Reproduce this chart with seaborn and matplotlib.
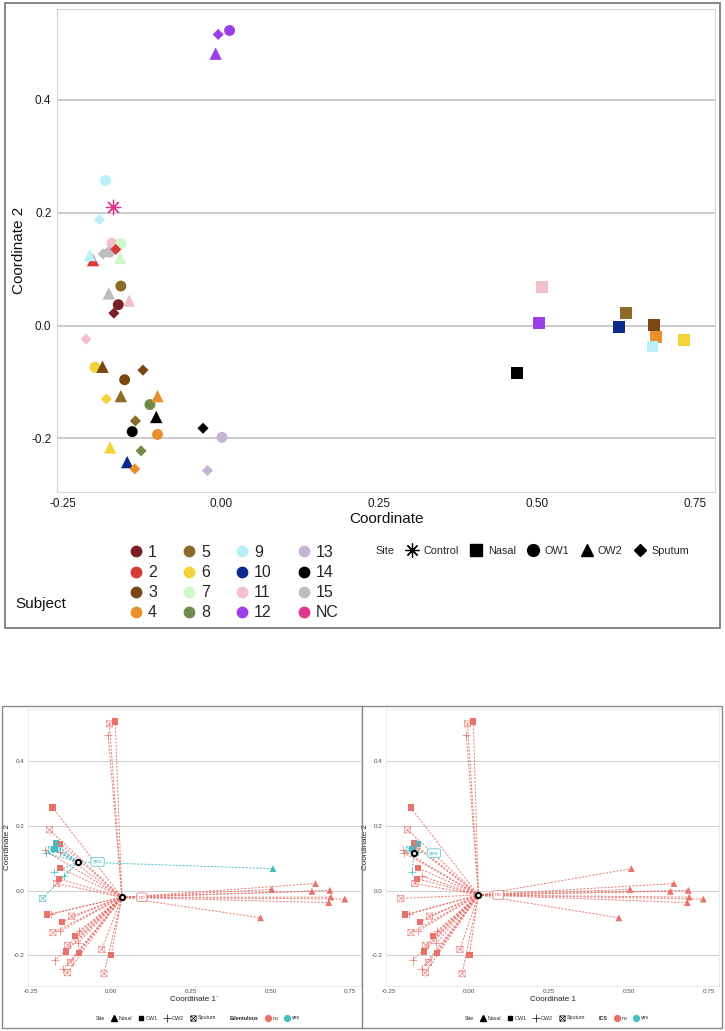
import matplotlib
matplotlib.use("Agg")
import numpy as np
import pandas as pd
import matplotlib.pyplot as plt
import seaborn as sns
from matplotlib.lines import Line2D
from matplotlib.markers import MarkerStyle
from matplotlib.path import Path
from matplotlib.patches import Rectangle

# ---------------- data ----------------
nasal_subject = ['11', '12', '14', '5', '10', '3', '4', '9', '6']
nasal_x = [0.508, 0.504, 0.469, 0.641, 0.630, 0.686, 0.689, 0.683, 0.733]
nasal_y = [0.068, 0.004, -0.084, 0.022, -0.002, 0.001, -0.020, -0.037, -0.026]

ow1_subject = ['12', '9', '11', '7', '15', '5', '1', '6', '3', '8', '14', '4', '13']
ow1_x = [0.014, -0.182, -0.172, -0.158, -0.176, -0.158, -0.162, -0.199, -0.152, -0.112, -0.140, -0.100, 0.002]
ow1_y = [0.523, 0.257, 0.146, 0.145, 0.130, 0.070, 0.037, -0.074, -0.096, -0.140, -0.188, -0.193, -0.198]

ow2_subject = ['12', '2', '9', '7', '15', '11', '3', '5', '4', '14', '6', '10']
ow2_x = [-0.008, -0.202, -0.207, -0.159, -0.177, -0.145, -0.187, -0.158, -0.100, -0.102, -0.175, -0.148]
ow2_y = [0.482, 0.116, 0.125, 0.120, 0.057, 0.044, -0.073, -0.125, -0.125, -0.162, -0.216, -0.242]

sputum_subject = ['12', '9', '2', '15', '1', '11', '3', '6', '5', '14', '8', '4', '13']
sputum_x = [-0.004, -0.192, -0.166, -0.186, -0.169, -0.213, -0.123, -0.181, -0.135, -0.028, -0.126, -0.136, -0.021]
sputum_y = [0.516, 0.188, 0.135, 0.127, 0.022, -0.024, -0.079, -0.130, -0.169, -0.182, -0.222, -0.254, -0.257]

control_subject = ['NC']
control_x = [-0.171]
control_y = [0.210]

subject_levels = ['1', '2', '3', '4', '5', '6', '7', '8', '9', '10',
                  '11', '12', '13', '14', '15', 'NC']
subject_colors = ['#7A1F25', '#D93A36', '#7A4612', '#E8902C', '#8A6C28', '#F2D33A',
                  '#CFF7C9', '#6F8A4A', '#B9F0F8', '#0D2A8A', '#F1C0CB', '#9B40E8',
                  '#C7B4D4', '#000000', '#BDBDBD', '#E0368E']

edentulous_yes_subjects = ['2', '11', '15']
ics_yes_subjects = ['7', '15']
group_levels = ['no', 'yes']
group_colors = ['#E8716A', '#45BCC1']

x_ticks = [-0.25, 0.0, 0.25, 0.50, 0.75]
x_tick_labels = ['-0.25', '0.00', '0.25', '0.50', '0.75']
y_ticks = [-0.2, 0.0, 0.2, 0.4]
y_tick_labels = ['-0.2', '0.0', '0.2', '0.4']

# ---------------- assemble ----------------
frames = []
for site, subj, xs, ys in [('Control', control_subject, control_x, control_y),
                           ('Nasal', nasal_subject, nasal_x, nasal_y),
                           ('OW1', ow1_subject, ow1_x, ow1_y),
                           ('OW2', ow2_subject, ow2_x, ow2_y),
                           ('Sputum', sputum_subject, sputum_x, sputum_y)]:
    frames.append(pd.DataFrame({'subject': subj, 'site': site, 'x': xs, 'y': ys}))
df = pd.concat(frames, ignore_index=True)
df['pid'] = np.arange(len(df))
samples = df[df['site'] != 'Control'].copy()
samples['Edentulous'] = np.where(samples['subject'].isin(edentulous_yes_subjects), 'yes', 'no')
samples['ICS'] = np.where(samples['subject'].isin(ics_yes_subjects), 'yes', 'no')

subj_pal = dict(zip(subject_levels, subject_colors))
grp_pal = dict(zip(group_levels, group_colors))

# boxed-X marker (square with a cross)
boxx_path = Path([(-1, -1), (1, -1), (1, 1), (-1, 1), (-1, -1),
                  (-1, -1), (1, 1), (-1, 1), (1, -1)],
                 [Path.MOVETO, Path.LINETO, Path.LINETO, Path.LINETO, Path.CLOSEPOLY,
                  Path.MOVETO, Path.LINETO, Path.MOVETO, Path.LINETO])
boxx_marker = MarkerStyle(boxx_path, fillstyle='none')
star_marker = (8, 2, 0)

# ---------------- figure ----------------
sns.set_theme(style='white')
plt.rcParams['font.family'] = ['Liberation Sans', 'DejaVu Sans']
W, H = 725, 1031
fig = plt.figure(figsize=(W / 100, H / 100), dpi=100)
fig.patch.set_facecolor('white')


def box(l, t, r, b):
    return [l / W, 1 - b / H, (r - l) / W, (b - t) / H]


XLIM = (-0.259, 0.782)
YLIM = (-0.295, 0.562)

# ---------- top panel ----------
ax0 = fig.add_axes(box(57, 8.5, 715, 492))
top_specs = [('Nasal', 's', 72, 0), ('OW1', 'o', 62, 0), ('OW2', '^', 80, 0),
             ('Sputum', 'D', 32, 0)]
for site, mk, s, lw in top_specs:
    sub = df[df['site'] == site]
    sns.scatterplot(data=sub, x='x', y='y', hue='subject', hue_order=subject_levels,
                    palette=subj_pal, marker=mk, s=s, linewidth=lw, legend=False,
                    ax=ax0, zorder=3)
sub = df[df['site'] == 'Control']
sns.scatterplot(data=sub, x='x', y='y', hue='subject', hue_order=subject_levels,
                palette=subj_pal, marker=star_marker, s=110, linewidth=0.9,
                legend=False, ax=ax0, zorder=3)

ax0.set_xlim(*XLIM)
ax0.set_ylim(*YLIM)
ax0.set_xticks(x_ticks)
ax0.set_xticklabels(x_tick_labels)
ax0.set_yticks(y_ticks)
ax0.set_yticklabels(y_tick_labels)
ax0.grid(axis='y', color='#BEBEBE', linewidth=1.1)
ax0.grid(axis='x', visible=False)
ax0.set_axisbelow(True)
for sp in ax0.spines.values():
    sp.set_color('#D6D6D6')
    sp.set_linewidth(0.8)
ax0.tick_params(length=0, labelsize=8.5, labelcolor='#1A1A1A', pad=4)
ax0.set_xlabel('Coordinate', fontsize=11, labelpad=2, color='#111111')
ax0.set_ylabel('Coordinate 2', fontsize=11, labelpad=4, color='#111111')

# subject legend
subj_handles = [Line2D([], [], linestyle='none', marker='o', markersize=8.5,
                       markerfacecolor=subj_pal[s], markeredgewidth=0)
                for s in subject_levels]
leg_s = fig.legend(handles=subj_handles, labels=subject_levels, ncol=4,
                   loc='upper left', bbox_to_anchor=(128 / W, 1 - 545 / H),
                   frameon=False, fontsize=11.5, handlelength=1.0, handletextpad=0.25,
                   columnspacing=1.5, labelspacing=0.32, borderpad=0,
                   borderaxespad=0)
fig.text(15 / W, 1 - 604 / H, 'Subject', fontsize=11, va='center', ha='left',
         color='#111111')

# site legend (top)
blank = Line2D([], [], linestyle='none', marker='')
site_handles = [blank,
                Line2D([], [], linestyle='none', marker=star_marker, markersize=10,
                       color='black', markeredgewidth=0.9),
                Line2D([], [], linestyle='none', marker='s', markersize=8.5, color='black'),
                Line2D([], [], linestyle='none', marker='o', markersize=8.5, color='black'),
                Line2D([], [], linestyle='none', marker='^', markersize=9, color='black'),
                Line2D([], [], linestyle='none', marker='D', markersize=5.8, color='black')]
fig.legend(handles=site_handles,
           labels=['Site', 'Control', 'Nasal', 'OW1', 'OW2', 'Sputum'],
           ncol=6, loc='center', bbox_to_anchor=(523 / W, 1 - 551 / H), frameon=False,
           fontsize=7.8, handlelength=1.4, handletextpad=0.35, columnspacing=0.9,
           borderpad=0)

fig.add_artist(Rectangle((5 / W, 1 - 628 / H), 715 / W, 625 / H,
                         transform=fig.transFigure, fill=False, ec='#7F7F7F', lw=1.3))


# ---------- bottom panels ----------
def spider(ax, data, group, xlabel, legend_title, legend_cx):
    cent = data.groupby(group, as_index=False)[['x', 'y']].mean()
    start = data[['pid', group]].merge(cent, on=group)
    end = data[['pid', group, 'x', 'y']]
    seg = pd.concat([start.assign(k=0), end.assign(k=1)]).sort_values(['pid', 'k'])
    sns.lineplot(data=seg, x='x', y='y', hue=group, hue_order=group_levels,
                 palette=grp_pal, units='pid', estimator=None, sort=False,
                 legend=False, ax=ax, linewidth=0.7, linestyle=(0, (2.2, 1.4)),
                 alpha=0.9, zorder=2)
    for site, mk, s, lw in [('Nasal', '^', 24, 0), ('OW1', 's', 20, 0),
                            ('OW2', '+', 34, 0.5)]:
        sub = data[data['site'] == site]
        sns.scatterplot(data=sub, x='x', y='y', hue=group, hue_order=group_levels,
                        palette=grp_pal, marker=mk, s=s, linewidth=lw, legend=False,
                        ax=ax, zorder=4)
    for lvl in group_levels:
        sub = data[(data['site'] == 'Sputum') & (data[group] == lvl)]
        if len(sub):
            sns.scatterplot(data=sub, x='x', y='y', color=grp_pal[lvl],
                            marker=boxx_marker, s=20, linewidth=0.45, legend=False,
                            ax=ax, zorder=4, alpha=0.85)
    sns.scatterplot(data=cent, x='x', y='y', color='white', edgecolor='black',
                    linewidth=1.5, s=14, ax=ax, zorder=7, legend=False)
    for _, r in cent.iterrows():
        c = grp_pal[r[group]]
        ax.text(r['x'] + 0.062, r['y'], r[group], color=c, fontsize=4.4, ha='center',
                va='center', zorder=6,
                bbox=dict(boxstyle='round,pad=0.3', fc='white', ec=c, lw=0.5))

    ax.set_xlim(*XLIM)
    ax.set_ylim(*YLIM)
    ax.set_xticks(x_ticks)
    ax.set_xticklabels(x_tick_labels)
    ax.set_yticks(y_ticks)
    ax.set_yticklabels(y_tick_labels)
    ax.grid(axis='y', color='#C8C8C8', linewidth=0.6)
    ax.grid(axis='x', visible=False)
    ax.set_axisbelow(True)
    for sp in ax.spines.values():
        sp.set_color('#E3E3E3')
        sp.set_linewidth(0.5)
    ax.tick_params(length=0, labelsize=4.5, labelcolor='#4D4D4D', pad=2.5)
    ax.set_xlabel(xlabel, fontsize=5.8, labelpad=0.8, color='#222222')
    ax.set_ylabel('Coordinate 2', fontsize=5.8, labelpad=2, color='#222222')

    hs = [blank,
          Line2D([], [], linestyle='none', marker='^', markersize=4, color='black'),
          Line2D([], [], linestyle='none', marker='s', markersize=3.5, color='black'),
          Line2D([], [], linestyle='none', marker='+', markersize=5.5, color='black',
                 markeredgewidth=0.5),
          Line2D([], [], linestyle='none', marker=boxx_path, markersize=3.8,
                 color='black', markerfacecolor='none', markeredgewidth=0.5),
          blank,
          Line2D([], [], linestyle='none', marker='o', markersize=4.2,
                 color=grp_pal['no']),
          Line2D([], [], linestyle='none', marker='o', markersize=4.2,
                 color=grp_pal['yes'])]
    leg = fig.legend(handles=hs,
                     labels=['Site', 'Nasal', 'OW1', 'OW2', 'Sputum', legend_title,
                             'no', 'yes'],
                     ncol=8, loc='center', bbox_to_anchor=(legend_cx / W, 1 - 1018 / H),
                     frameon=False, fontsize=3.8, handlelength=1.3, handletextpad=0.3,
                     columnspacing=1.0, borderpad=0)
    leg.get_texts()[5].set_fontweight('bold')


ax1 = fig.add_axes(box(28, 709, 360.5, 986))
spider(ax1, samples, 'Edentulous', 'Coordinate 1`', 'Edentulous', 194)
ax2 = fig.add_axes(box(386, 709, 719, 986))
spider(ax2, samples, 'ICS', 'Coordinate 1', 'ICS', 553)

fig.add_artist(Rectangle((2 / W, 1 - 1028 / H), 720 / W, 322 / H,
                         transform=fig.transFigure, fill=False, ec='#8A8A8A', lw=1.0))
fig.add_artist(Line2D([361.5 / W, 361.5 / W], [1 - 1028 / H, 1 - 706 / H],
                      transform=fig.transFigure, color='#8A8A8A', lw=1.0))

fig.savefig('out.png', dpi=100, facecolor='white')
